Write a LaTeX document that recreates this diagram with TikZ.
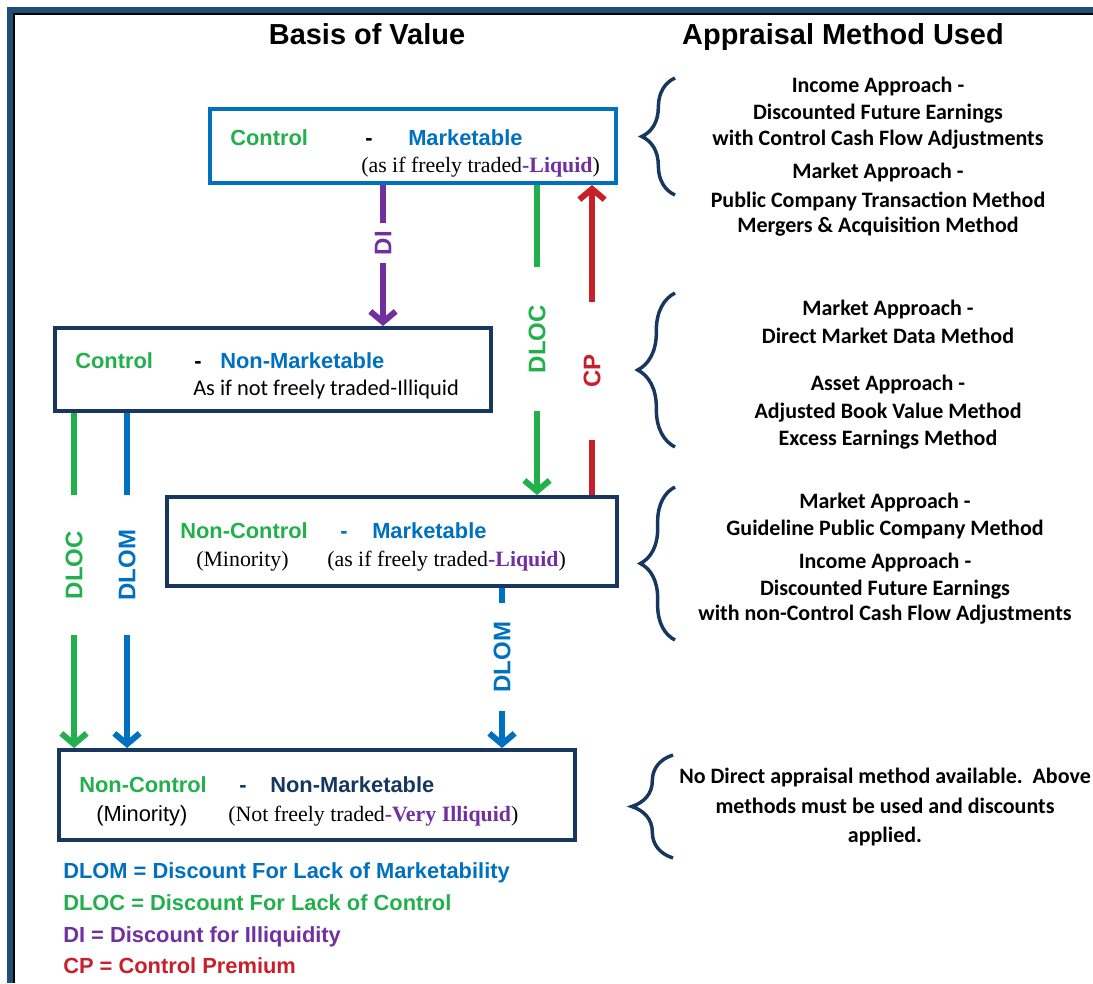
\documentclass[tikz,border=0pt]{standalone}
\usepackage{fontspec}
\setmainfont{Liberation Sans}
\newfontfamily\timesfont{Liberation Serif}
\newfontfamily\calibrifont{Carlito}
\usetikzlibrary{arrows.meta,decorations.pathreplacing}
\definecolor{ctrlgreen}{RGB}{34,176,76}
\definecolor{mktblue}{RGB}{0,112,192}
\definecolor{illpurple}{RGB}{112,48,160}
\definecolor{cpred}{RGB}{200,32,42}
\definecolor{boxnavy}{RGB}{23,55,94}
\definecolor{frameblue}{RGB}{31,78,121}
\begin{document}
\begin{tikzpicture}[x=.75pt,y=-.75pt,>={Straight Barb[length=8pt,width=19pt]},
	valbox/.style={draw=boxnavy,line width=3pt,rectangle,inner sep=0pt},
	hd/.style={anchor=base,inner sep=0pt,font=\fontsize{21.7}{26}\selectfont\bfseries},
	bx/.style={anchor=base west,inner sep=0pt,font=\fontsize{16.4}{19}\selectfont\bfseries},
	tm/.style={anchor=base west,inner sep=0pt,font=\fontsize{16.4}{19}\selectfont\timesfont},
	meth/.style={anchor=base,inner sep=0pt,font=\fontsize{16.5}{19}\selectfont\calibrifont\bfseries},
	lg/.style={anchor=base west,inner sep=0pt,font=\fontsize{16.4}{19}\selectfont\bfseries},
	arr/.style={line width=4.5pt},
	lbl/.style={rotate=90,inner ysep=1pt,font=\fontsize{18}{20}\selectfont\bfseries},
	brc/.style={draw=boxnavy,line width=2.6pt,decorate,decoration={brace,amplitude=#1}}]
	\useasboundingbox (0,0) rectangle (1093,983);
	% frame
	\draw[frameblue,line width=4.5pt] (1093,10) -| (10,983);
	\draw[line width=1.5pt] (1093,14) -| (14,983);
	% headings
	\node[hd] (hbasis) at (367,44) {Basis of Value};
	\node[hd] (happr) at (843,44) {Appraisal Method Used};
	% value boxes
	\node[valbox,draw=mktblue,minimum width=304.5pt,minimum height=55.5pt] (cm) at (413,146) {};
	\node[valbox,minimum width=327pt,minimum height=62.25pt] (cn) at (273,369.5) {};
	\node[valbox,minimum width=337.5pt,minimum height=66.75pt] (nm) at (392,541.5) {};
	\node[valbox,minimum width=387pt,minimum height=67.5pt] (nn) at (317,795) {};
	% box texts
	\node[bx,text=ctrlgreen] (cm-a) at (230,145) {Control};
	\node[bx] (cm-b) at (365,145) {-};
	\node[bx,text=mktblue] (cm-c) at (408,145) {Marketable};
	\node[tm] (cm-d) at (361,172) {(as if freely traded{\bfseries\color{illpurple}-Liquid})};
	\node[bx,text=ctrlgreen] (cn-a) at (75,368) {Control};
	\node[bx] (cn-b) at (194,368) {-};
	\node[bx,text=mktblue] (cn-c) at (220,368) {Non-Marketable};
	\node[bx,font=\fontsize{16.8}{19}\selectfont\calibrifont] (cn-d) at (193,395) {As if not freely traded-Illiquid};
	\node[bx,text=ctrlgreen] (nm-a) at (180,538) {Non-Control};
	\node[bx,text=mktblue] (nm-b) at (340,538) {-};
	\node[bx,text=mktblue] (nm-c) at (372,538) {Marketable};
	\node[tm] (nm-d) at (196,566) {(Minority)};
	\node[tm] (nm-e) at (327,566) {(as if freely traded{\bfseries\color{illpurple}-Liquid})};
	\node[bx,text=ctrlgreen] (nn-a) at (79,792) {Non-Control};
	\node[bx,text=boxnavy] (nn-b) at (239,792) {-};
	\node[bx,text=boxnavy] (nn-c) at (270,792) {Non-Marketable};
	\node[bx,font=\fontsize{16.4}{19}\selectfont] (nn-d) at (96,821) {(Minority)};
	\node[tm] (nn-e) at (228,821) {(Not freely traded{\bfseries\color{illpurple}-Very Illiquid})};
	% discounts and premium
	\node[lbl,text=illpurple,inner xsep=6pt] (di) at (383,243) {DI};
	\draw[arr,illpurple] (cm.south -| di) -- (di);
	\draw[arr,illpurple,->] (di) -- (cn.north -| di);
	\node[lbl,text=ctrlgreen,inner xsep=28pt] (dloc-a) at (537,339) {DLOC};
	\draw[arr,ctrlgreen] (cm.south -| dloc-a) -- (dloc-a);
	\draw[arr,ctrlgreen,->] (dloc-a) -- (nm.north -| dloc-a);
	\node[lbl,text=cpred,inner xsep=39pt] (cp) at (592,371) {CP};
	\draw[arr,cpred] (nm.north -| cp) -- (cp);
	\draw[arr,cpred,->] (cp) -- (cm.south -| cp);
	\node[lbl,text=ctrlgreen,inner xsep=27pt] (dloc-b) at (74,565) {DLOC};
	\draw[arr,ctrlgreen] (cn.south -| dloc-b) -- (dloc-b);
	\draw[arr,ctrlgreen,->] (dloc-b) -- (nn.north -| dloc-b);
	\node[lbl,text=mktblue,inner xsep=26pt] (dlom-a) at (127,565) {DLOM};
	\draw[arr,mktblue] (cn.south -| dlom-a) -- (dlom-a);
	\draw[arr,mktblue,->] (dlom-a) -- (nn.north -| dlom-a);
	\node[lbl,text=mktblue,inner xsep=14pt] (dlom-b) at (502,657) {DLOM};
	\draw[arr,mktblue] (nm.south -| dlom-b) -- (dlom-b);
	\draw[arr,mktblue,->] (dlom-b) -- (nn.north -| dlom-b);
	% braces and methods
	\draw[brc=25pt] (675,195) -- (675,78);
	\draw[brc=28pt] (675,447) -- (675,293);
	\draw[brc=26pt] (675,640) -- (675,487);
	\draw[brc=31pt] (673,858) -- (673,755);
	\foreach \y/\t in {92/Income Approach -,119/Discounted Future Earnings,145/with Control Cash Flow Adjustments,178/Market Approach -,207/Public Company Transaction Method,232/Mergers \& Acquisition Method}
		\node[meth] (ma-\y) at (878,\y) {\t};
	\foreach \y/\t in {315/Market Approach -,343/Direct Market Data Method,390/Asset Approach -,418/Adjusted Book Value Method,445/Excess Earnings Method}
		\node[meth] (mb-\y) at (888,\y) {\t};
	\foreach \y/\t in {508/Market Approach -,535/Guideline Public Company Method,568/Income Approach -,595/Discounted Future Earnings,620/with non-Control Cash Flow Adjustments}
		\node[meth] (mc-\y) at (885,\y) {\t};
	\foreach \y/\t in {783/No Direct appraisal method available.\ \ Above,813/methods must be used and discounts,842/applied.}
		\node[meth] (md-\y) at (885,\y) {\t};
	% legend
	\node[lg,text=mktblue] (lg-a) at (63,878) {DLOM = Discount For Lack of Marketability};
	\node[lg,text=ctrlgreen] (lg-b) at (63,910) {DLOC = Discount For Lack of Control};
	\node[lg,text=illpurple] (lg-c) at (63,942) {DI = Discount for Illiquidity};
	\node[lg,text=cpred] (lg-d) at (63,973) {CP = Control Premium};
\end{tikzpicture}
\end{document}
